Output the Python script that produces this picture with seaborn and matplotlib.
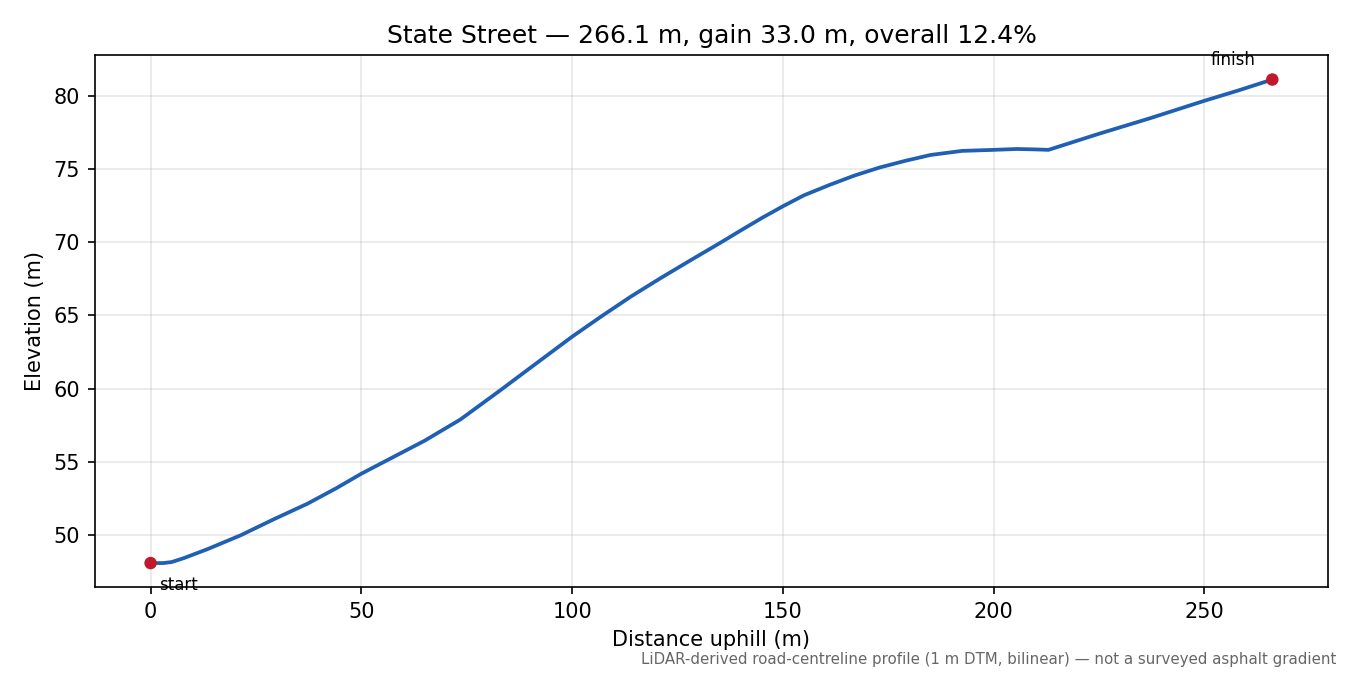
import matplotlib
matplotlib.use("Agg")
import matplotlib.pyplot as plt
import seaborn as sns
import pandas as pd

# profile (distance uphill in m, elevation in m)
distance = [0, 3, 5, 8, 13.5, 21.4, 29.3, 37.2, 44, 50, 57, 65, 73.5, 83, 89.5,
            100, 107, 114, 121, 128, 135.4, 140, 145, 150, 155, 161, 167, 173,
            179, 185, 192.5, 200, 205.5, 210, 213, 219, 225, 237, 250, 258, 266.1]
elevation = [48.10, 48.10, 48.17, 48.45, 49.05, 50.0, 51.1, 52.15, 53.2, 54.2,
             55.25, 56.45, 57.9, 59.9, 61.3, 63.55, 64.95, 66.3, 67.55, 68.75,
             70.0, 70.8, 71.65, 72.45, 73.2, 73.9, 74.55, 75.1, 75.55, 75.95,
             76.23, 76.3, 76.36, 76.33, 76.3, 76.85, 77.4, 78.45, 79.65, 80.35, 81.1]

title = "State Street \u2014 266.1 m, gain 33.0 m, overall 12.4%"
footnote = "LiDAR-derived road-centreline profile (1 m DTM, bilinear) \u2014 not a surveyed asphalt gradient"

df = pd.DataFrame({"distance": distance, "elevation": elevation})
ends = df.iloc[[0, -1]]

fig, ax = plt.subplots(figsize=(9, 4.5), dpi=150)
sns.lineplot(data=df, x="distance", y="elevation", color="#1f5fb4", linewidth=1.8, ax=ax)
sns.scatterplot(data=ends, x="distance", y="elevation", color="#c0192c", s=36,
                edgecolor="none", zorder=3, ax=ax)

ax.annotate("start", (ends["distance"].iloc[0], ends["elevation"].iloc[0]),
            xytext=(4, -6), textcoords="offset points", ha="left", va="top", fontsize=8)
ax.annotate("finish", (ends["distance"].iloc[1], ends["elevation"].iloc[1]),
            xytext=(-8, 5), textcoords="offset points", ha="right", va="bottom", fontsize=8)

ax.set_title(title, fontsize=12)
ax.set_xlabel("Distance uphill (m)")
ax.set_ylabel("Elevation (m)")
ax.grid(True, alpha=0.3)
ax.margins(x=0.05, y=0.05)

fig.text(0.99, 0.012, footnote, ha="right", va="bottom", fontsize=7.2, color="#666666")
fig.subplots_adjust(left=0.07, right=0.984, top=0.918, bottom=0.13)
fig.savefig("out.png", dpi=150)
